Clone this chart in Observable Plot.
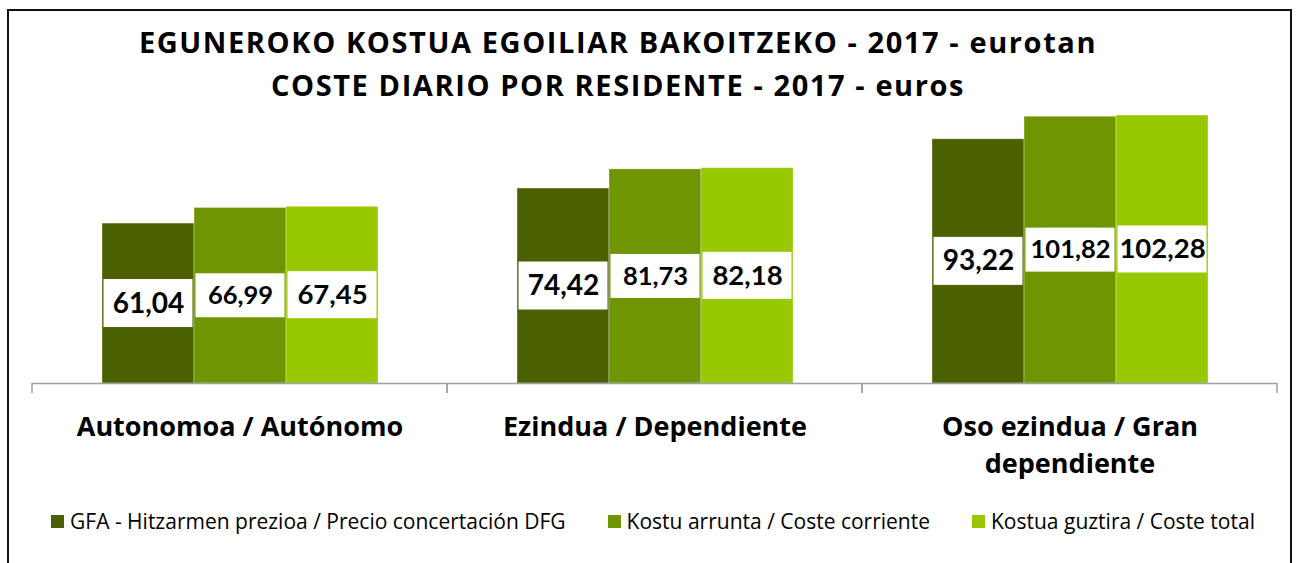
<!DOCTYPE html>
<html>
<head>
<meta charset="utf-8">
<script src="https://cdn.jsdelivr.net/npm/d3@7"></script>
<script src="https://cdn.jsdelivr.net/npm/@observablehq/plot@0.6"></script>
<style>
  html, body { margin: 0; padding: 0; background: #fff; }
  body { width: 1298px; height: 563px; overflow: hidden; position: relative; font-family: "Open Sans", Lato, sans-serif; color: #000; }
  #frame { position: absolute; left: 7px; top: 9px; width: 1285px; height: 700px; border: 2px solid #111; box-sizing: border-box; pointer-events: none; }
  #title { width: 1236px; height: 110px; box-sizing: border-box; padding-top: 20px; text-align: center; font-weight: bold; font-size: 29px; letter-spacing: 1.6px; line-height: 43px; }
  #chart svg { display: block; }
  #legend { width: 1306px; padding-top: 21px; display: flex; justify-content: center; gap: 42px; font-size: 21px; line-height: 20px; }
  .item { display: flex; align-items: center; gap: 6px; white-space: nowrap; }
  .sw { width: 13px; height: 13px; display: inline-block; }
</style>
</head>
<body>
<div id="title"></div>
<div id="chart"></div>
<div id="legend"></div>
<div id="frame"></div>
<script>
// ---- data ----
const titleLines = ["EGUNEROKO KOSTUA EGOILIAR BAKOITZEKO - 2017 - eurotan", "COSTE DIARIO POR RESIDENTE - 2017 - euros"];
const categories = ["Autonomoa / Autónomo", "Ezindua / Dependiente", "Oso ezindua / Gran dependiente"];
const categoryLabels = ["Autonomoa / Autónomo", "Ezindua / Dependiente", "Oso ezindua / Gran\ndependiente"];
const seriesNames = ["GFA - Hitzarmen prezioa / Precio concertación DFG", "Kostu arrunta / Coste corriente", "Kostua guztira / Coste total"];
const gfaValues = [61.04, 74.42, 93.22];
const arruntaValues = [66.99, 81.73, 101.82];
const guztiraValues = [67.45, 82.18, 102.28];
const seriesColors = ["#4b6000", "#6f9500", "#98c800"];
const labelFontSizes = [28, 25.5, 27.5];
const labelBoxHeights = [48, 44, 47];

const seriesValues = [gfaValues, arruntaValues, guztiraValues];
const rows = [];
categories.forEach((c, ci) => seriesNames.forEach((s, si) => rows.push({category: c, series: s, si, value: seriesValues[si][ci]})));
const fmt = v => v.toFixed(2).replace(".", ",");

// ---- title ----
document.getElementById("title").innerHTML = titleLines.map(t => `<div>${t}</div>`).join("");

// ---- boundary ticks of each category band ----
const bandTicks = (index, scales, values, dimensions) => {
  const g = d3.create("svg:g");
  const {width, height, marginLeft, marginRight, marginBottom} = dimensions;
  const y0 = height - marginBottom;
  for (const x of [marginLeft, width - marginRight]) {
    g.append("line").attr("x1", x).attr("x2", x).attr("y1", y0).attr("y2", y0 + 10)
      .attr("stroke", "#a0a0a0").attr("stroke-width", 1.5);
  }
  return g.node();
};

const chart = Plot.plot({
  width: 1298,
  height: 380,
  marginLeft: 32,
  marginRight: 21,
  marginTop: 0,
  marginBottom: 107,
  style: {fontFamily: "Lato, 'Open Sans', sans-serif", background: "transparent"},
  fx: {domain: categories, padding: 0, axis: null},
  x: {domain: seriesNames, paddingInner: 0, paddingOuter: 0.75, axis: null},
  y: {domain: [0, 104.2], axis: null},
  color: {domain: seriesNames, range: seriesColors},
  marks: [
    Plot.barY(rows, {fx: "category", x: "series", y: "value", fill: "series", stroke: "#ffffff", strokeOpacity: 0.35, strokeWidth: 1, inset: 0}),
    ...seriesNames.map((s, si) => Plot.barY(rows.filter(d => d.si === si), {
      fx: "category", x: "series", y1: d => d.value / 2, y2: d => d.value / 2,
      insetTop: -labelBoxHeights[si] / 2, insetBottom: -labelBoxHeights[si] / 2, insetLeft: 1.5, insetRight: 1.5,
      fill: "white"
    })),
    ...seriesNames.map((s, si) => Plot.text(rows.filter(d => d.si === si), {
      fx: "category", x: "series", y: d => d.value / 2, text: d => fmt(d.value),
      fill: "black", fontWeight: "bold", fontSize: labelFontSizes[si]
    })),
    Plot.ruleY([0], {stroke: "#a0a0a0", strokeWidth: 1.5}),
    bandTicks,
    Plot.text(categories, {fx: d => d, text: d => categoryLabels[categories.indexOf(d)], frameAnchor: "bottom",
      dy: 26, lineAnchor: "top", lineHeight: 1.37, fontSize: 27, fontWeight: "bold", fill: "black",
      fontFamily: "'Open Sans', Lato, sans-serif"})
  ]
});
document.getElementById("chart").append(chart);

// ---- legend ----
document.getElementById("legend").innerHTML = seriesNames.map((s, i) =>
  `<span class="item"><span class="sw" style="background:${seriesColors[i]}"></span><span>${s}</span></span>`).join("");
</script>
</body>
</html>
